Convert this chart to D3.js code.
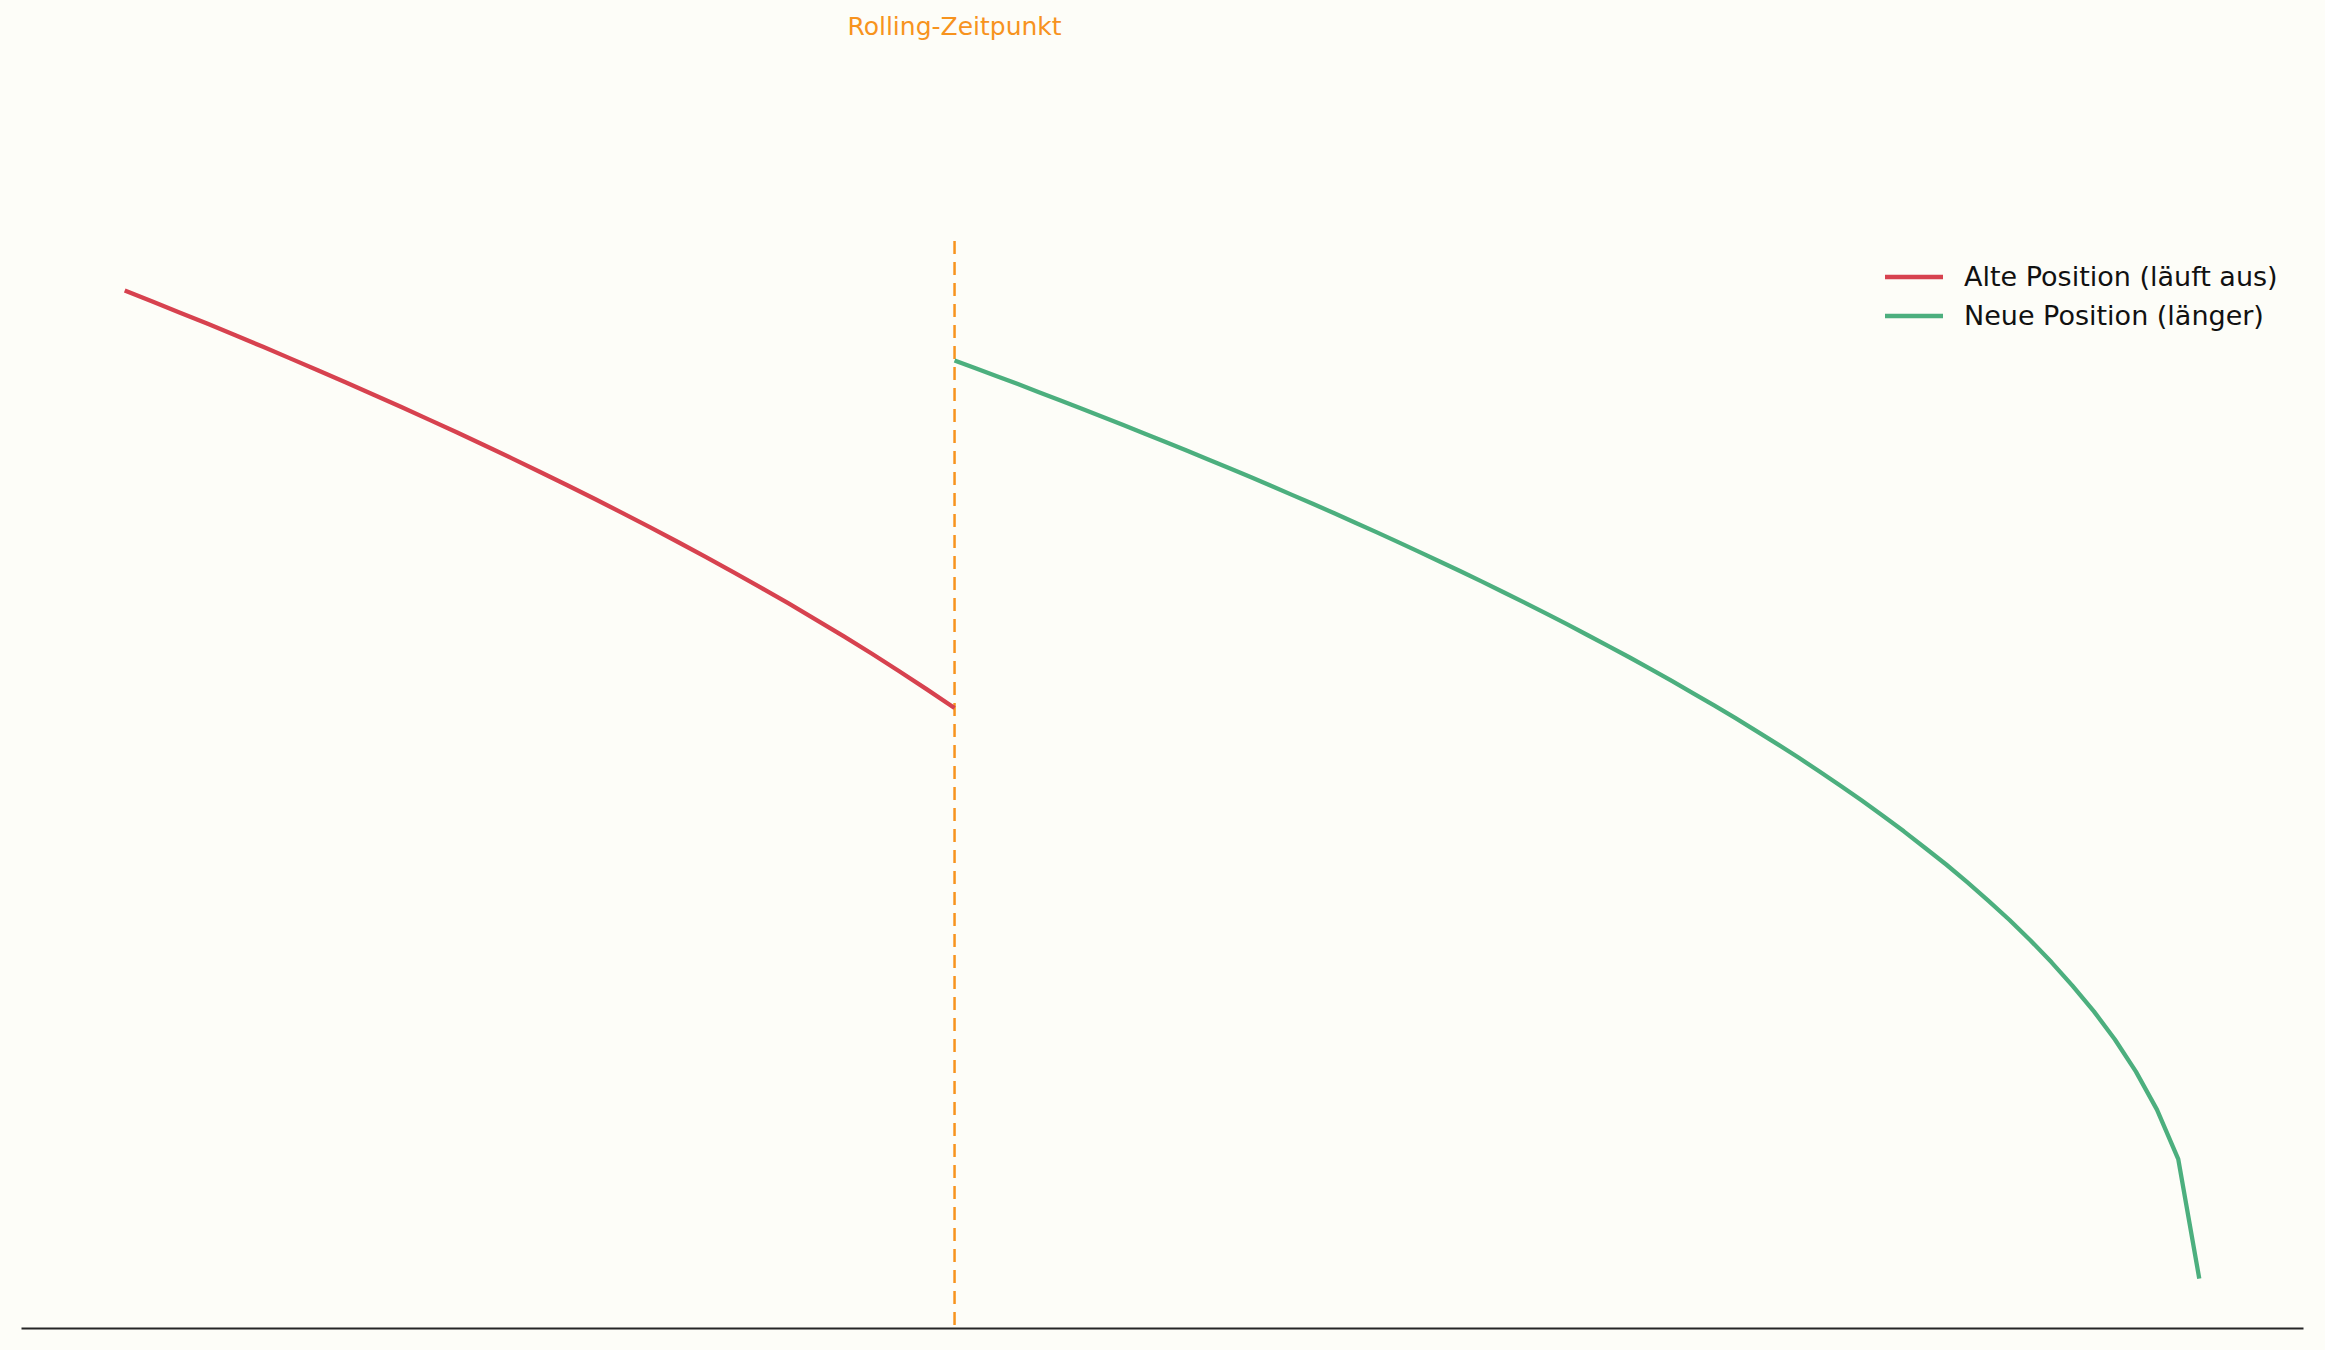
<!DOCTYPE html>
<html>
<head>
<meta charset="utf-8">
<script src="https://cdn.jsdelivr.net/npm/d3@7"></script>
<style>
  body { margin: 0; background: #fdfdf8; }
  svg { display: block; font-family: "DejaVu Sans", sans-serif; }
</style>
</head>
<body>
<svg id="chart"></svg>
<script>
let width = 2325,
  height = 1350;

// Alte Position: Tage 0..30, Wert (Zeitwert) laeuft aus
const oldDays = [0, 1, 2, 3, 4, 5, 6, 7, 8, 9, 10, 11, 12, 13, 14, 15, 16, 17, 18, 19, 20, 21, 22, 23, 24, 25, 26, 27, 28, 29, 30];
const oldValues = [6.708, 6.633, 6.557, 6.481, 6.403, 6.325, 6.245, 6.164, 6.083, 6.0, 5.916, 5.831, 5.745, 5.657, 5.568, 5.477,
  5.385, 5.292, 5.196, 5.099, 5.0, 4.899, 4.796, 4.69, 4.583, 4.472, 4.359, 4.243, 4.123, 4.0, 3.873];

// Neue Position: ab Rolling-Zeitpunkt bis Verfall
const newDays = [30.0, 30.76, 31.53, 32.29, 33.05, 33.81, 34.58, 35.34, 36.1, 36.86, 37.63, 38.39, 39.15, 39.92, 40.68,
  41.44, 42.2, 42.97, 43.73, 44.49, 45.25, 46.02, 46.78, 47.54, 48.31, 49.07, 49.83, 50.59, 51.36, 52.12, 52.88, 53.64,
  54.41, 55.17, 55.93, 56.69, 57.46, 58.22, 58.98, 59.75, 60.51, 61.27, 62.03, 62.8, 63.56, 64.32, 65.08, 65.85, 66.61,
  67.37, 68.14, 68.9, 69.66, 70.42, 71.19, 71.95, 72.71, 73.47, 74.24, 75.0];
const newValues = [6.232, 6.179, 6.125, 6.072, 6.017, 5.962, 5.907, 5.851, 5.794, 5.737, 5.679, 5.621, 5.562, 5.503,
  5.443, 5.382, 5.32, 5.258, 5.195, 5.131, 5.067, 5.001, 4.935, 4.868, 4.8, 4.731, 4.661, 4.59, 4.517, 4.444, 4.369,
  4.293, 4.216, 4.137, 4.057, 3.975, 3.891, 3.806, 3.718, 3.628, 3.537, 3.442, 3.345, 3.245, 3.142, 3.036, 2.925,
  2.811, 2.691, 2.566, 2.434, 2.295, 2.147, 1.987, 1.814, 1.623, 1.405, 1.147, 0.811, 0.0];

const rollDay = 30;
const seriesNames = ["Alte Position (läuft aus)", "Neue Position (länger)"];
const seriesColors = ["#d7424f", "#4caf7e"];

let svg = d3.select("#chart").attr("width", width).attr("height", height);

svg.append("rect").attr("width", width).attr("height", height).attr("fill", "#fdfdf8");

let margin = { left: 21, right: 22, top: 241, bottom: 22 };

// Scales with matplotlib-like 5% padding
let xMin = d3.min(oldDays), xMax = d3.max(newDays);
let xPad = (xMax - xMin) * 0.05;
let x = d3.scaleLinear()
  .domain([xMin - xPad, xMax + xPad])
  .range([margin.left, width - margin.right]);

let yMin = d3.min(newValues), yMax = d3.max(oldValues);
let yPad = (yMax - yMin) * 0.05;
let y = d3.scaleLinear()
  .domain([yMin - yPad, yMax + yPad])
  .range([height - margin.bottom, margin.top]);

let line = d3.line().x((d) => x(d[0])).y((d) => y(d[1]));

let series = [
  d3.zip(oldDays, oldValues),
  d3.zip(newDays, newValues),
];

// Rolling vertical line
svg.append("line")
  .attr("x1", x(rollDay)).attr("x2", x(rollDay))
  .attr("y1", y.range()[1]).attr("y2", y.range()[0])
  .attr("stroke", "#f7931e")
  .attr("stroke-width", 2.5)
  .attr("stroke-dasharray", "13,8");

svg.append("text")
  .attr("x", x(rollDay))
  .attr("y", 35)
  .attr("text-anchor", "middle")
  .attr("fill", "#f7931e")
  .style("font-size", "25px")
  .text("Rolling-Zeitpunkt");

// Lines
svg.append("g")
  .selectAll("path")
  .data(series)
  .enter()
  .append("path")
  .attr("d", line)
  .attr("fill", "none")
  .attr("stroke", (d, i) => seriesColors[i])
  .attr("stroke-width", 4.3)
  .attr("stroke-linejoin", "round");

// Bottom spine only
svg.append("g")
  .attr("transform", "translate(0," + y.range()[0] + ")")
  .call(d3.axisBottom(x).ticks(0).tickSize(0).tickFormat(""))
  .call((g) => g.select(".domain").attr("stroke", "#262626").attr("stroke-width", 2.2));

// Legend
let legend = svg.append("g").attr("transform", "translate(1885,277)");
let items = legend.selectAll("g")
  .data(seriesNames)
  .enter()
  .append("g")
  .attr("transform", (d, i) => "translate(0," + i * 39 + ")");

items.append("line")
  .attr("x1", 0).attr("x2", 58)
  .attr("stroke", (d, i) => seriesColors[i])
  .attr("stroke-width", 4.3);

items.append("text")
  .attr("x", 79)
  .attr("dy", "0.35em")
  .attr("fill", "#111")
  .style("font-size", "27px")
  .text((d) => d);
</script>
</body>
</html>
